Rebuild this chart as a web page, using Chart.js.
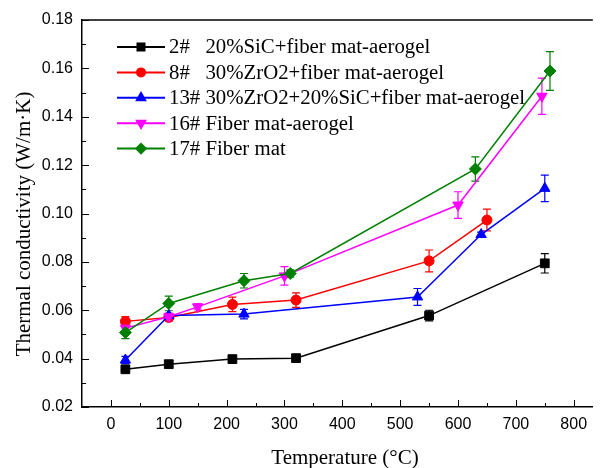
<!DOCTYPE html>
<html lang="en">
<head>
    <meta charset="UTF-8">
    <title>Thermal conductivity vs temperature</title>
    <style>
        body {
            margin: 0;
            padding: 0;
            background: #fff;
        }
        .chart-box {
            width: 600px;
            height: 468px;
        }
    </style>
</head>
<body>
    <div class="chart-box">
        <canvas id="kChart" width="600" height="468"></canvas>
    </div>

    <script src="https://cdn.jsdelivr.net/npm/chart.js"></script>
    <script>
        // Measured samples: temperature (°C), conductivity (W/m·K), error (±)
        const temps2 = [25, 100, 210, 320, 550, 750];
        const k2 = [0.0356, 0.0377, 0.0398, 0.0402, 0.0578, 0.0794];
        const err2 = [0.0012, 0.001, 0.001, 0.001, 0.0022, 0.004];

        const temps8 = [25, 100, 210, 320, 550, 650];
        const k8 = [0.0554, 0.0570, 0.0624, 0.0642, 0.0804, 0.0973];
        const err8 = [0.002, 0.0015, 0.003, 0.003, 0.0045, 0.0045];

        const temps13 = [25, 100, 230, 530, 640, 750];
        const k13 = [0.0394, 0.0578, 0.0584, 0.0655, 0.0913, 0.1104];
        const err13 = [0.0015, 0.0008, 0.002, 0.0035, 0.001, 0.0055];

        const temps16 = [25, 100, 150, 300, 600, 745];
        const k16 = [0.0526, 0.0573, 0.0614, 0.0742, 0.1035, 0.1485];
        const err16 = [0.002, 0.0015, 0.0012, 0.0038, 0.0055, 0.0075];

        const temps17 = [25, 100, 230, 310, 630, 759];
        const k17 = [0.0508, 0.0628, 0.0722, 0.0752, 0.1184, 0.1589];
        const err17 = [0.0025, 0.003, 0.003, 0.0015, 0.005, 0.008];

        const seriesNames = [
            '2#   20%SiC+fiber mat-aerogel',
            '8#   30%ZrO2+fiber mat-aerogel',
            '13# 30%ZrO2+20%SiC+fiber mat-aerogel',
            '16# Fiber mat-aerogel',
            '17# Fiber mat'
        ];

        const xTicks = [0, 100, 200, 300, 400, 500, 600, 700, 800];
        const yTicks = [0.02, 0.04, 0.06, 0.08, 0.10, 0.12, 0.14, 0.16, 0.18];

        const xTitle = 'Temperature (°C)';
        const yTitle = 'Thermal conductivity (W/m·K)';

        function points(xs, ys) {
            return xs.map((x, i) => ({ x: x, y: ys[i] }));
        }

        function series(i, xs, ys, errs, color, style, radius, rotation) {
            return {
                label: seriesNames[i],
                data: points(xs, ys),
                errors: errs,
                borderColor: color,
                backgroundColor: color,
                borderWidth: 1.5,
                pointStyle: style,
                pointRadius: radius,
                pointRotation: rotation || 0,
                pointBorderWidth: 1,
                tension: 0,
                order: 5 - i
            };
        }

        const serifFont = '"Liberation Serif", "Times New Roman", serif';
        const sansFont = '"Liberation Sans", Arial, sans-serif';

        // error bars with small caps, under the markers
        const errorBars = {
            id: 'errorBars',
            beforeDatasetsDraw(chart) {
                const ctx = chart.ctx;
                const xs = chart.scales.x, ys = chart.scales.y;
                ctx.save();
                chart.data.datasets.forEach(ds => {
                    ctx.strokeStyle = ds.borderColor;
                    ctx.lineWidth = 1.2;
                    ds.data.forEach((p, i) => {
                        const e = ds.errors[i];
                        const px = xs.getPixelForValue(p.x);
                        const top = ys.getPixelForValue(p.y + e);
                        const bot = ys.getPixelForValue(p.y - e);
                        ctx.beginPath();
                        ctx.moveTo(px, top); ctx.lineTo(px, bot);
                        ctx.moveTo(px - 4, top); ctx.lineTo(px + 4, top);
                        ctx.moveTo(px - 4, bot); ctx.lineTo(px + 4, bot);
                        ctx.stroke();
                    });
                });
                ctx.restore();
            }
        };

        // inward major/minor ticks, top frame line and the two axis titles
        const frameTicks = {
            id: 'frameTicks',
            afterDraw(chart) {
                const ctx = chart.ctx;
                const area = chart.chartArea;
                const xs = chart.scales.x, ys = chart.scales.y;
                ctx.save();
                ctx.strokeStyle = '#000';
                ctx.lineWidth = 1.5;
                ctx.beginPath();
                ctx.moveTo(area.left, area.top);
                ctx.lineTo(area.right, area.top);
                ctx.stroke();
                ctx.lineWidth = 1;
                ctx.beginPath();
                for (let v = 0; v <= 800; v += 50) {
                    const px = Math.round(xs.getPixelForValue(v)) + 0.5;
                    const len = v % 100 === 0 ? 7 : 4;
                    ctx.moveTo(px, area.bottom);
                    ctx.lineTo(px, area.bottom - len);
                }
                for (let k = 2; k <= 18; k++) {
                    const py = Math.round(ys.getPixelForValue(k / 100)) + 0.5;
                    const len = k % 2 === 0 ? 7 : 4;
                    ctx.moveTo(area.left, py);
                    ctx.lineTo(area.left + len, py);
                }
                ctx.stroke();

                ctx.fillStyle = '#000';
                ctx.font = '21px ' + serifFont;
                ctx.textAlign = 'center';
                ctx.textBaseline = 'middle';
                ctx.fillText(xTitle, 345, 458);
                ctx.translate(24, 224);
                ctx.rotate(-Math.PI / 2);
                ctx.fillText(yTitle, 0, 0);
                ctx.restore();
            }
        };

        // legend in the upper-left of the plot: line segment + marker + label
        const insetLegend = {
            id: 'insetLegend',
            afterDraw(chart) {
                const ctx = chart.ctx;
                const helpers = Chart.helpers;
                ctx.save();
                ctx.font = '20.8px ' + serifFont;
                ctx.textBaseline = 'middle';
                chart.data.datasets.forEach((ds, i) => {
                    const y = 47 + i * 25.4;
                    ctx.strokeStyle = ds.borderColor;
                    ctx.lineWidth = 2;
                    ctx.beginPath();
                    ctx.moveTo(117, y);
                    ctx.lineTo(165, y);
                    ctx.stroke();
                    ctx.fillStyle = ds.backgroundColor;
                    helpers.drawPoint(ctx, {
                        pointStyle: ds.pointStyle,
                        radius: ds.pointRadius * 0.8,
                        rotation: ds.pointRotation,
                        borderWidth: 1
                    }, 141, y);
                    ctx.fillStyle = '#000';
                    ctx.fillText(ds.label, 169, y + 1);
                });
                ctx.restore();
            }
        };

        const ctx = document.getElementById('kChart').getContext('2d');
        const kChart = new Chart(ctx, {
            type: 'line',
            data: {
                datasets: [
                    series(0, temps2, k2, err2, '#000000', 'rect', 6.2),
                    series(1, temps8, k8, err8, '#ff0000', 'circle', 5),
                    series(2, temps13, k13, err13, '#0000ff', 'triangle', 6),
                    series(3, temps16, k16, err16, '#ff00ff', 'triangle', 6, 180),
                    series(4, temps17, k17, err17, '#008000', 'rectRot', 6)
                ]
            },
            options: {
                responsive: false,
                animation: false,
                layout: { padding: { top: 20, right: 0, left: 0, bottom: 0 } },
                plugins: {
                    legend: { display: false },
                    tooltip: { enabled: false }
                },
                scales: {
                    x: {
                        type: 'linear',
                        min: -50,
                        max: 833,
                        afterFit(scale) { scale.height = 61; },
                        afterBuildTicks(scale) {
                            scale.ticks = xTicks.map(v => ({ value: v }));
                        },
                        grid: { display: false, drawTicks: false },
                        border: { display: true, color: '#000', width: 1.5 },
                        ticks: {
                            padding: 8,
                            color: '#000',
                            font: { family: sansFont, size: 16 }
                        }
                    },
                    y: {
                        type: 'linear',
                        min: 0.02,
                        max: 0.18,
                        afterFit(scale) { scale.width = 82; },
                        afterBuildTicks(scale) {
                            scale.ticks = yTicks.map(v => ({ value: v }));
                        },
                        grid: { display: false, drawTicks: false },
                        border: { display: true, color: '#000', width: 1.5 },
                        ticks: {
                            padding: 9,
                            color: '#000',
                            font: { family: sansFont, size: 16 },
                            callback: v => v.toFixed(2)
                        }
                    }
                }
            },
            plugins: [errorBars, frameTicks, insetLegend]
        });
    </script>
</body>
</html>
